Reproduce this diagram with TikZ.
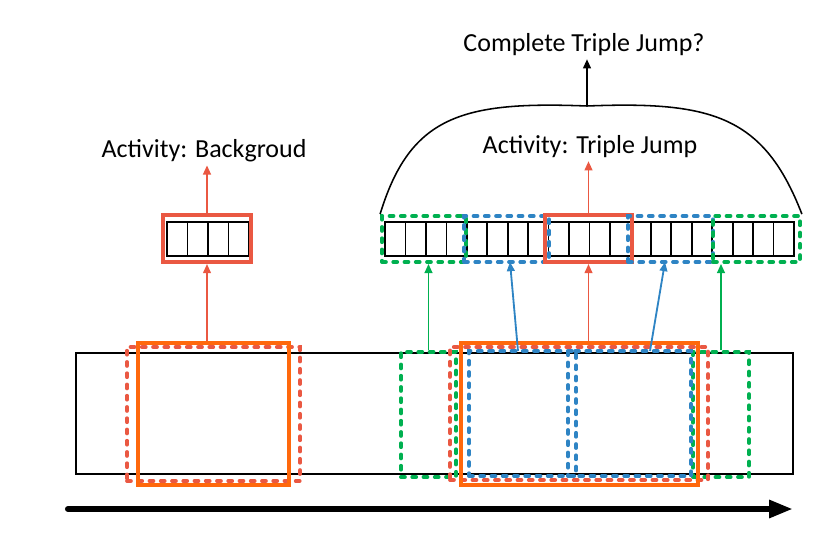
\documentclass[tikz,border=0pt]{standalone}
\usepackage{fontspec}
\setmainfont{Carlito}
\usetikzlibrary{arrows.meta,positioning,fit}
\definecolor{acorange}{RGB}{255,104,12}
\definecolor{acred}{RGB}{234,88,66}
\definecolor{acblue}{RGB}{46,132,196}
\definecolor{acgreen}{RGB}{0,176,80}

\begin{document}
\begin{tikzpicture}[x=0.025cm, y=-0.025cm,
        frame/.style={draw, line width=0.9pt, inner sep=0pt},
        cell/.style={draw, line width=1.2pt},
        solidbox/.style={draw=#1, line width=2.8pt, inner sep=0pt},
        dashbox/.style={draw=#1, line width=2.7pt, inner sep=0pt, line cap=round, dash pattern=on 2.8pt off 5.2pt},
        link/.style={-{Triangle[length=6.5pt, width=5.5pt]}, line width=1.3pt, draw=#1},
        label/.style={font=\fontsize{18.5}{22}\selectfont, inner sep=2pt},
        timeline/.style={-{Triangle[length=17pt, width=12pt]}, line width=4.3pt, line cap=round}
      ]
      \useasboundingbox (0,0) rectangle (830,547);

      \node[frame, fit={(76,353) (793,474)}] (video) {};

      \node[dashbox=acred, fit={(127,347) (300,481)}] (lred) {};
      \node[solidbox=acorange, fit={(138,343) (289,485)}] (lorange) {};

      \node[dashbox=acgreen, fit={(401,352) (456,477)}] (bgreen1) {};
      \node[dashbox=acgreen, fit={(693,352) (749,477)}] (bgreen2) {};
      \node[dashbox=acred, fit={(450,347) (708,480)}] (rred) {};
      \node[solidbox=acorange, fit={(461,343) (698,485)}] (rorange) {};
      \node[dashbox=acblue, fit={(469,351) (576,476)}] (bblue1) {};
      \node[dashbox=acblue, fit={(568,351) (691,476)}] (bblue2) {};

      \foreach \i in {0,...,3}
        \draw[cell] (167+\i*20.5,222) rectangle ++(20.5,34);
      \node[solidbox=acred, fit={(163,215) (251,262)}] (lclip) {};

      \foreach \i in {0,...,19}
        \draw[cell] (385+\i*20.45,222) rectangle ++(20.45,34);
      \node[dashbox=acgreen, fit={(382,216) (466,262)}] (tgreen1) {};
      \node[dashbox=acblue, fit={(464,216) (549,262)}] (tblue1) {};
      \node[solidbox=acred, fit={(545,215) (632,262)}] (tred) {};
      \node[dashbox=acblue, fit={(628,216) (713,262)}] (tblue2) {};
      \node[dashbox=acgreen, fit={(713,216) (800,262)}] (tgreen2) {};

      \node[label] (bglab) at (204,151) {Activity: Backgroud};
      \node[label] (tjlab) at (590,147) {Activity: Triple Jump};
      \node[label] (ctlab) at (584,45) {Complete Triple Jump?};

      \coordinate (bstart1) at (518,351);
      \coordinate (bstart2) at (650,351);
      \coordinate (tstart) at (68,509);
      \coordinate (tend) at (793,509);
      \coordinate (peak) at (587,106);

      \draw[link=acred] (lclip.south |- lorange.north) -- (lclip.south);
      \draw[link=acred] (lclip.north) -- (lclip.north |- bglab.south);

      \draw[link=acgreen] (bgreen1.north) -- (bgreen1.north |- tgreen1.south);
      \draw[link=acgreen] (bgreen2.north) -- (bgreen2.north |- tgreen2.south);
      \draw[link=acblue] (bstart1) -- (510,262);
      \draw[link=acblue] (bstart2) -- (665,262);
      \draw[link=acred] (tred.south |- rorange.north) -- (tred.south);
      \draw[link=acred] (tred.north) -- (tred.north |- tjlab.south);

      \draw[line width=1.1pt] (tgreen1.north west) .. controls (410,116) and (462,101) .. (peak)
        .. controls (712,101) and (764,116) .. (tgreen2.north east);
      \draw[link=black] (peak) -- (peak |- ctlab.south);

      \draw[timeline] (tstart) -- (tend);
    \end{tikzpicture}
\end{document}
